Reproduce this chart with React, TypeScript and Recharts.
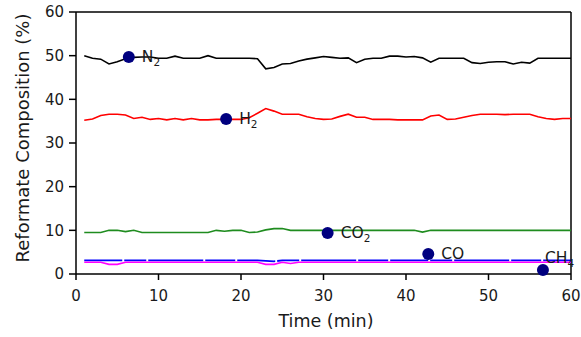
import {
  ComposedChart,
  Line,
  Scatter,
  XAxis,
  YAxis,
  ReferenceLine,
  Label,
} from "recharts";

document.body.style.margin = "0";

const time = [
  1, 2, 3, 4, 5, 6, 7, 8, 9, 10, 11, 12, 13, 14, 15, 16, 17, 18, 19, 20, 21,
  22, 23, 24, 25, 26, 27, 28, 29, 30, 31, 32, 33, 34, 35, 36, 37, 38, 39, 40,
  41, 42, 43, 44, 45, 46, 47, 48, 49, 50, 51, 52, 53, 54, 55, 56, 57, 58, 59,
  60,
];

const n2 = [
  50.0, 49.4, 49.2, 48.1, 48.6, 49.3, 49.6, 49.7, 49.7, 49.4, 49.4, 49.9, 49.4,
  49.4, 49.4, 50.0, 49.4, 49.4, 49.4, 49.4, 49.4, 49.3, 47.0, 47.3, 48.1, 48.2,
  48.8, 49.2, 49.5, 49.8, 49.6, 49.4, 49.5, 48.4, 49.2, 49.4, 49.4, 49.9, 49.9,
  49.7, 49.8, 49.5, 48.5, 49.4, 49.4, 49.4, 49.4, 48.4, 48.2, 48.5, 48.6, 48.6,
  48.1, 48.5, 48.3, 49.4, 49.4, 49.4, 49.4, 49.4,
];

const h2 = [
  35.2, 35.5, 36.3, 36.6, 36.6, 36.4, 35.6, 35.9, 35.4, 35.6, 35.3, 35.6, 35.3,
  35.6, 35.3, 35.3, 35.4, 35.4, 35.4, 35.4, 35.8, 36.8, 37.9, 37.3, 36.6, 36.6,
  36.6, 36.0, 35.6, 35.4, 35.5, 36.1, 36.6, 35.9, 35.9, 35.4, 35.4, 35.4, 35.3,
  35.3, 35.3, 35.3, 36.2, 36.4, 35.4, 35.5, 35.9, 36.3, 36.6, 36.6, 36.6, 36.5,
  36.6, 36.6, 36.6, 36.0, 35.6, 35.4, 35.6, 35.6,
];

const co2 = [
  9.5, 9.5, 9.5, 10.0, 10.0, 9.7, 10.0, 9.5, 9.5, 9.5, 9.5, 9.5, 9.5, 9.5, 9.5,
  9.5, 10.0, 9.8, 10.0, 10.0, 9.5, 9.6, 10.1, 10.4, 10.4, 10.0, 10.0, 10.0, 10.0,
  10.0, 10.0, 10.0, 10.0, 10.0, 10.0, 10.0, 10.0, 10.0, 10.0, 10.0, 10.0, 9.6,
  10.0, 10.0, 10.0, 10.0, 10.0, 10.0, 10.0, 10.0, 10.0, 10.0, 10.0, 10.0, 10.0,
  10.0, 10.0, 10.0, 10.0, 10.0,
];

const co = [
  3.1, 3.1, 3.1, 3.1, 3.1, 3.1, 3.1, 3.1, 3.1, 3.1, 3.1, 3.1, 3.1, 3.1, 3.1, 3.1,
  3.1, 3.1, 3.1, 3.1, 3.1, 3.1, 3.0, 2.9, 3.1, 3.1, 3.1, 3.1, 3.1, 3.1, 3.1, 3.1,
  3.1, 3.1, 3.1, 3.1, 3.1, 3.1, 3.1, 3.1, 3.1, 3.1, 3.1, 3.1, 3.1, 3.1, 3.1, 3.1,
  3.1, 3.1, 3.1, 3.1, 3.1, 3.1, 3.1, 3.1, 3.1, 3.1, 3.1, 3.1,
];

const ch4 = [
  2.7, 2.7, 2.7, 2.2, 2.2, 2.7, 2.7, 2.7, 2.7, 2.7, 2.7, 2.7, 2.7, 2.7, 2.7, 2.7,
  2.7, 2.7, 2.7, 2.7, 2.7, 2.7, 2.2, 2.2, 2.7, 2.4, 2.7, 2.7, 2.7, 2.7, 2.7, 2.7,
  2.7, 2.7, 2.7, 2.7, 2.7, 2.7, 2.7, 2.7, 2.7, 2.7, 2.7, 2.7, 2.7, 2.7, 2.7, 2.7,
  2.7, 2.7, 2.7, 2.7, 2.7, 2.7, 2.7, 2.7, 2.7, 2.7, 2.7, 2.7,
];

// labelled markers
const markerNames = ["N2", "H2", "CO2", "CO", "CH4"];
const markerTime = [6.4, 18.2, 30.5, 42.7, 56.6];
const markerValue = [49.7, 35.5, 9.4, 4.6, 0.9];

const xTicks = [0, 10, 20, 30, 40, 50, 60];
const yTicks = [0, 10, 20, 30, 40, 50, 60];

const data = time.map((t, i) => ({
  t,
  n2: n2[i],
  h2: h2[i],
  co2: co2[i],
  co: co[i],
  ch4: ch4[i],
}));

const markers = markerNames.map((name, i) => ({
  name,
  t: markerTime[i],
  v: markerValue[i],
}));

const FONT = "DejaVu Sans";

function MarkerShape(props: any) {
  const { cx, cy, payload } = props;
  const name: string = payload.name;
  const above = name === "CH4";
  const parts = name.match(/[A-Z]+|\d+/g) || [];
  return (
    <g>
      <circle cx={cx} cy={cy} r={6} fill="#00007f" />
      <text
        x={cx + (above ? 2 : 13)}
        y={cy + (above ? -7 : 5)}
        fontSize={15.5}
        fontFamily={FONT}
        fill="#1a1a1a"
      >
        {parts.map((p, i) =>
          /\d/.test(p) ? (
            <tspan key={i} fontSize={10.5} dy={4}>
              {p}
            </tspan>
          ) : (
            <tspan key={i}>{p}</tspan>
          ),
        )}
      </text>
    </g>
  );
}

export default function App() {
  return (
    <div style={{ fontFamily: FONT }}>
      <ComposedChart
        width={581}
        height={337}
        data={data}
        margin={{ top: 12, right: 10, bottom: 0, left: 0 }}
      >
        <XAxis
          dataKey="t"
          type="number"
          domain={[0, 60]}
          ticks={xTicks}
          height={63}
          tickSize={6}
          tickMargin={10}
          stroke="#000"
          strokeWidth={1.5}
          tick={{ fill: "#1a1a1a", fontSize: 15 }}
        >
          <Label
            content={() => (
              <text
                x={326}
                y={327}
                textAnchor="middle"
                fontSize={17.5}
                fontFamily={FONT}
                fill="#1a1a1a"
              >
                Time (min)
              </text>
            )}
          />
        </XAxis>
        <YAxis
          type="number"
          domain={[0, 60]}
          ticks={yTicks}
          width={76}
          tickSize={7}
          tickMargin={5}
          stroke="#000"
          strokeWidth={1.5}
          tick={{ fill: "#1a1a1a", fontSize: 15 }}
        >
          <Label
            content={() => (
              <text
                x={29}
                y={138}
                transform="rotate(-90 29 138)"
                textAnchor="middle"
                fontSize={18}
                fontFamily={FONT}
                fill="#1a1a1a"
              >
                Reformate Composition (%)
              </text>
            )}
          />
        </YAxis>
        <ReferenceLine y={60} stroke="#000" strokeWidth={1.5} />
        <ReferenceLine x={60} stroke="#000" strokeWidth={1.5} />
        <Line
          dataKey="co"
          stroke="#0000ff"
          strokeWidth={1.8}
          strokeDasharray="38 2 22 2 55 2 30 2"
          dot={false}
          isAnimationActive={false}
        />
        <Line
          dataKey="ch4"
          stroke="#ff00ff"
          strokeWidth={1.6}
          dot={false}
          isAnimationActive={false}
        />
        <Line
          dataKey="co2"
          stroke="#1f8c1f"
          strokeWidth={1.6}
          dot={false}
          isAnimationActive={false}
        />
        <Line
          dataKey="h2"
          stroke="#ff0000"
          strokeWidth={1.6}
          dot={false}
          isAnimationActive={false}
        />
        <Line
          dataKey="n2"
          stroke="#000000"
          strokeWidth={1.6}
          dot={false}
          isAnimationActive={false}
        />
        <Scatter
          data={markers}
          dataKey="v"
          shape={MarkerShape}
          isAnimationActive={false}
        />
      </ComposedChart>
    </div>
  );
}
